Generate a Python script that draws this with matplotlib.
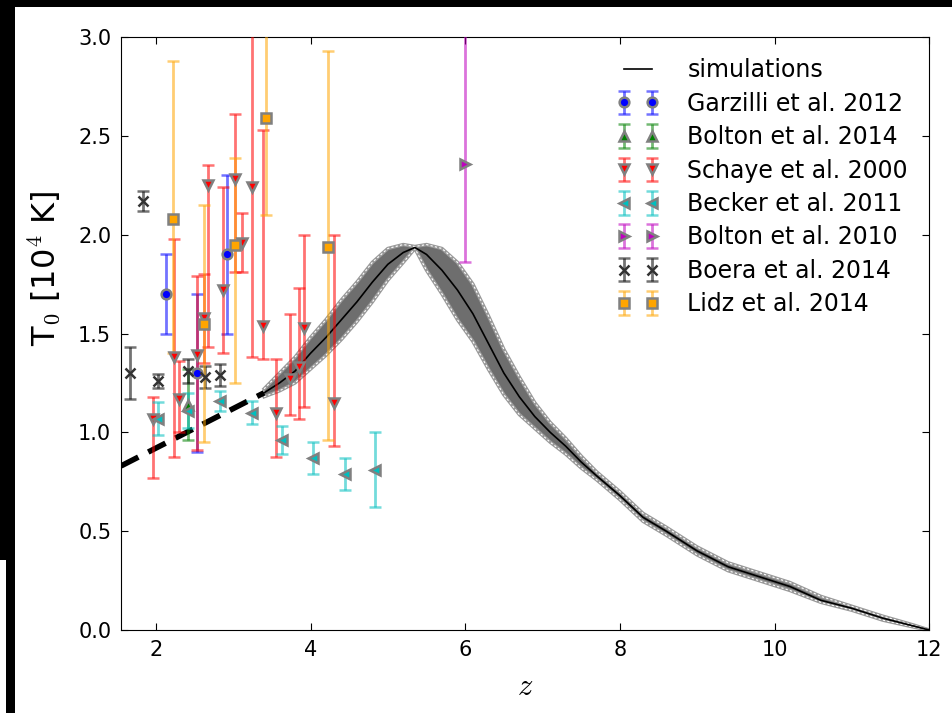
#!/usr/bin/python3
import numpy as np
import matplotlib
matplotlib.use("Agg")
import matplotlib.pyplot as plt
from matplotlib.colors import to_rgba
from matplotlib.patches import Rectangle

plt.rcParams['mathtext.fontset'] = 'cm'

# simulation: median and spread
sim_z = [3.4, 3.6, 3.8, 4.0, 4.2, 4.4, 4.6, 4.8, 5.0, 5.2, 5.35, 5.5, 5.7, 5.9,
         6.1, 6.3, 6.5, 6.7, 6.9, 7.1, 7.3, 7.5, 7.7, 8.0, 8.3, 8.6, 9.0, 9.4,
         9.8, 10.2, 10.6, 11.0, 11.4, 11.8, 12.0]
sim_T = [1.20, 1.25, 1.31, 1.40, 1.48, 1.57, 1.66, 1.76, 1.85, 1.91, 1.935, 1.90,
         1.82, 1.72, 1.60, 1.45, 1.30, 1.18, 1.08, 1.00, 0.93, 0.85, 0.78, 0.68,
         0.57, 0.50, 0.40, 0.32, 0.27, 0.22, 0.15, 0.11, 0.06, 0.02, 0.0]
sim_lo = [1.18, 1.21, 1.25, 1.32, 1.39, 1.47, 1.56, 1.66, 1.77, 1.86, 1.93, 1.82,
          1.70, 1.57, 1.46, 1.32, 1.19, 1.09, 1.02, 0.95, 0.89, 0.82, 0.76, 0.66,
          0.55, 0.48, 0.38, 0.30, 0.25, 0.20, 0.14, 0.10, 0.05, 0.015, 0.0]
sim_hi = [1.22, 1.30, 1.38, 1.48, 1.57, 1.67, 1.76, 1.86, 1.93, 1.95, 1.94, 1.95,
          1.93, 1.86, 1.75, 1.59, 1.42, 1.28, 1.15, 1.05, 0.97, 0.88, 0.80, 0.70,
          0.59, 0.52, 0.42, 0.34, 0.29, 0.24, 0.17, 0.12, 0.07, 0.025, 0.0]

# low-z extrapolation
dash_z = [1.55, 3.4]
dash_T = [0.83, 1.20]

# observations: z, T0, lower err, upper err
garz_z = [2.13, 2.53, 2.92]
garz_T = [1.70, 1.30, 1.90]
garz_em = [0.20, 0.40, 0.40]
garz_ep = [0.20, 0.40, 0.40]

bol14_z = [2.41]
bol14_T = [1.14]
bol14_em = [0.18]
bol14_ep = [0.18]

schaye_z = [1.96, 2.23, 2.30, 2.53, 2.62, 2.67, 2.87, 3.03, 3.11, 3.25, 3.38,
            3.56, 3.73, 3.85, 3.91, 4.31]
schaye_T = [1.07, 1.38, 1.17, 1.39, 1.58, 2.25, 1.72, 2.28, 1.96, 2.24, 1.54,
            1.10, 1.27, 1.33, 1.53, 1.15]
schaye_em = [0.30, 0.505, 0.17, 0.48, 0.23, 0.82, 0.32, 0.47, 0.15, 0.86, 0.17,
             0.225, 0.18, 0.26, 0.40, 0.22]
schaye_ep = [0.11, 0.60, 0.19, 0.40, 0.22, 0.10, 0.52, 0.33, 0.15, 0.95, 0.99,
             0.27, 0.33, 0.40, 0.47, 0.85]

becker_z = [2.03, 2.41, 2.83, 3.24, 3.63, 4.03, 4.44, 4.83]
becker_T = [1.07, 1.11, 1.16, 1.10, 0.96, 0.87, 0.79, 0.81]
becker_e = [0.085, 0.09, 0.05, 0.06, 0.07, 0.08, 0.08, 0.19]

bol10_z = [6.0]
bol10_T = [2.36]
bol10_em = [0.50]
bol10_ep = [0.80]

boera_z = [1.66, 1.83, 2.03, 2.41, 2.63, 2.83]
boera_T = [1.30, 2.17, 1.26, 1.31, 1.28, 1.29]
boera_e = [0.13, 0.05, 0.035, 0.06, 0.055, 0.055]

lidz_z = [2.22, 2.62, 3.02, 3.42, 4.22]
lidz_T = [2.08, 1.55, 1.95, 2.59, 1.94]
lidz_em = [0.68, 0.60, 0.70, 0.49, 0.98]
lidz_ep = [0.80, 0.60, 0.44, 0.60, 0.99]

fig = plt.figure(figsize=(9.53, 7.13), dpi=100)
ax = fig.add_axes([0.127, 0.1164, 0.848, 0.8317])

# simulation band
ax.fill_between(sim_z, sim_lo, sim_hi, color='0.43', lw=0, zorder=1)
for edge in (sim_lo, sim_hi):
    ax.plot(sim_z, edge, color='0.6', lw=2.5, zorder=1.5)
    ax.plot(sim_z, edge, color='white', lw=0.8, ls=(0, (2, 2)), zorder=1.6)
ax.plot(sim_z, sim_T, color='k', lw=1.2, zorder=2, label='simulations')
ax.plot(dash_z, dash_T, color='k', lw=4, ls=(0, (3.5, 2)), zorder=2)

def obs(z, T, em, ep, col, mk, lab, mec='grey'):
    ax.errorbar(z, T, yerr=[em, ep], fmt=mk, ms=7, mfc=col, mec=mec, mew=1.8,
                ecolor=to_rgba(col, 0.55), elinewidth=2, capsize=4, capthick=1.5,
                label=lab, zorder=3)

obs(garz_z, garz_T, garz_em, garz_ep, 'blue', 'o', 'Garzilli et al. 2012')
obs(bol14_z, bol14_T, bol14_em, bol14_ep, 'green', '^', 'Bolton et al. 2014')
obs(schaye_z, schaye_T, schaye_em, schaye_ep, 'red', 'v', 'Schaye et al. 2000')
obs(becker_z, becker_T, becker_e, becker_e, 'c', '<', 'Becker et al. 2011')
obs(bol10_z, bol10_T, bol10_em, bol10_ep, 'm', '>', 'Bolton et al. 2010')
obs(boera_z, boera_T, boera_e, boera_e, 'k', 'x', 'Boera et al. 2014', mec='0.2')
obs(lidz_z, lidz_T, lidz_em, lidz_ep, 'orange', 's', 'Lidz et al. 2014')

ax.set_xlim(1.55, 12)
ax.set_ylim(0, 3)
ax.set_xticks([2, 4, 6, 8, 10, 12])
ax.set_yticks([0.0, 0.5, 1.0, 1.5, 2.0, 2.5, 3.0])
ax.set_yticklabels(['0.0', '0.5', '1.0', '1.5', '2.0', '2.5', '3.0'])
ax.tick_params(direction='in', top=True, right=True, length=5, labelsize=15, pad=7)
ax.set_xlabel('$z$', fontsize=22)
ax.xaxis.set_label_coords(0.5, -0.07)
ax.set_ylabel(r'T$_0$ [10$^4$ K]', fontsize=23)
ax.yaxis.set_label_coords(-0.072, 0.61)

ax.legend(loc='upper right', frameon=False, numpoints=2, fontsize=17,
          handlelength=1.8, handletextpad=1.2, labelspacing=0.4,
          bbox_to_anchor=(1.0, 1.0))

# black screenshot borders
W, H = 953.0, 713.0
fig.add_artist(Rectangle((0, 1 - 7 / H), 1, 7 / H, transform=fig.transFigure,
                         color='black', lw=0))
fig.add_artist(Rectangle((0, 1 - 560 / H), 15 / W, 560 / H, transform=fig.transFigure,
                         color='black', lw=0))
fig.add_artist(Rectangle((6 / W, 0), 9 / W, 1 - 560 / H, transform=fig.transFigure,
                         color='black', lw=0))

fig.savefig('out.png', dpi=100)
